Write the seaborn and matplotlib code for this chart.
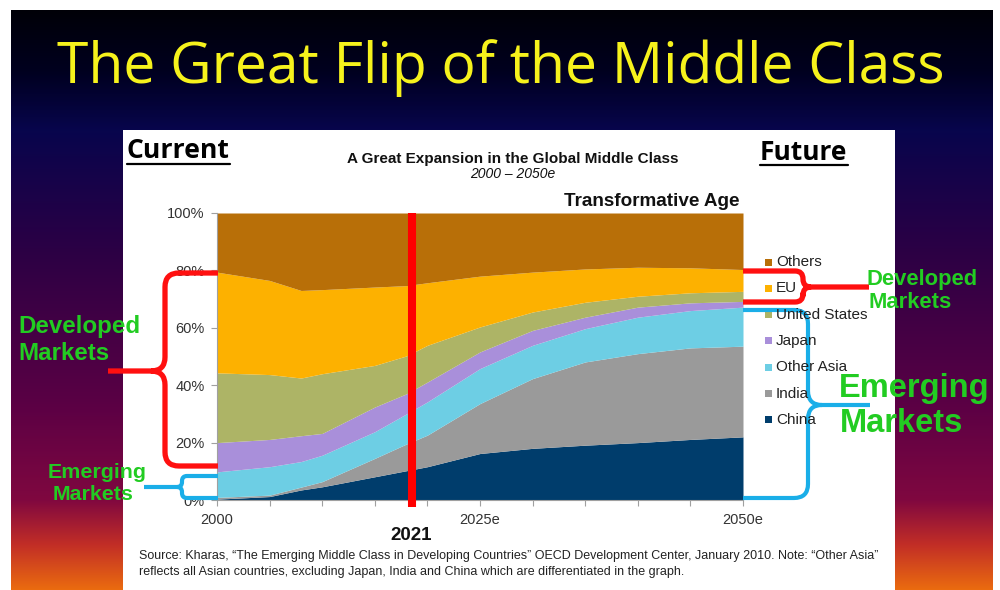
import numpy as np
import matplotlib
matplotlib.use("Agg")
import matplotlib.pyplot as plt
import seaborn as sns
from matplotlib.path import Path
from matplotlib.patches import PathPatch, Rectangle

# ---------------- data (shares of global middle class, %) ----------------
years = [2000, 2005, 2008, 2010, 2015, 2018, 2020, 2025, 2030, 2035, 2040, 2045, 2050]
china      = [0.3, 1.2, 3.5, 4.6, 8.1, 10.2, 11.6, 16.2, 18.0, 19.1, 20.0, 21.1, 22.0]
india      = [0.6, 0.5, 1.0, 1.8, 6.4, 9.3, 11.0, 17.4, 24.3, 29.0, 31.0, 31.9, 31.6]
other_asia = [8.9, 9.9, 8.9, 9.2, 9.3, 10.5, 11.6, 12.2, 11.6, 11.6, 12.7, 13.0, 13.6]
japan      = [10.2, 9.5, 9.0, 7.6, 8.6, 7.0, 6.9, 5.8, 5.2, 4.0, 3.5, 2.7, 2.0]
us         = [24.3, 22.6, 20.1, 20.8, 14.5, 13.2, 12.8, 8.7, 6.4, 5.2, 3.8, 3.5, 3.5]
eu         = [35.1, 32.8, 30.5, 29.3, 27.3, 24.5, 21.8, 17.7, 13.9, 11.6, 10.1, 8.7, 7.6]
others     = [20.6, 23.5, 27.0, 26.7, 25.8, 25.3, 24.3, 22.0, 20.6, 19.5, 18.9, 19.1, 19.7]

regions = ["China", "India", "Other Asia", "Japan", "United States", "EU", "Others"]
series = [china, india, other_asia, japan, us, eu, others]
colors = ["#003D6C", "#9A9A9A", "#6DCEE4", "#A98FDA", "#ADB466", "#FDB100", "#B86F08"]

x_ticks = list(range(2000, 2051, 5))
x_tick_labels = {2000: "2000", 2025: "2025e", 2050: "2050e"}
y_ticks = [0, 20, 40, 60, 80, 100]
marker_year = 2018.5
marker_label = "2021"

title = "The Great Flip of the Middle Class"
chart_title = "A Great Expansion in the Global Middle Class"
chart_subtitle = "2000 \u2013 2050e"
source_1 = ("Source: Kharas, \u201cThe Emerging Middle Class in Developing Countries\u201d OECD Development "
            "Center, January 2010. Note: \u201cOther Asia\u201d")
source_2 = "reflects all Asian countries, excluding Japan, India and China which are differentiated in the graph."

# ---------------- style ----------------
sns.set_theme(style="ticks")
plt.rcParams['font.family'] = ['Liberation Sans', 'DejaVu Sans']

W, H = 1000, 590
fig = plt.figure(figsize=(W / 100, H / 100), dpi=100)
fig.patch.set_facecolor("white")

# background gradient (pixel coordinates)
bg = fig.add_axes([0, 0, 1, 1], zorder=0)
bg.set_xlim(0, W); bg.set_ylim(H, 0); bg.axis("off")
stop_y = [10, 70, 130, 250, 400, 500, 545, 590]
stop_c = np.array([[0.0, 0.0, 0.03], [0.0, 0.0, 0.12], [0.03, 0.02, 0.30], [0.17, 0.0, 0.27],
                   [0.35, 0.0, 0.27], [0.50, 0.03, 0.25], [0.76, 0.18, 0.15], [0.92, 0.42, 0.06]])
ys = np.arange(10, 591)
grad = np.stack([np.interp(ys, stop_y, stop_c[:, k]) for k in range(3)], axis=-1)[:, None, :]
bg.imshow(grad, extent=(11, 993, 590, 10), aspect="auto", interpolation="bilinear")
bg.add_patch(Rectangle((123, 130), 895 - 123, 590 - 130, facecolor="white", edgecolor="none"))
bg.set_xlim(0, W); bg.set_ylim(H, 0)

# ---------------- main chart ----------------
ax = fig.add_axes([217 / W, 1 - 500 / H, 526 / W, 287 / H], zorder=2)
ax.stackplot(years, *series, colors=colors, labels=regions, linewidth=0)
ax.set_xlim(2000, 2050)
ax.set_ylim(0, 100)
ax.set_xticks(x_ticks)
ax.set_xticklabels([x_tick_labels.get(y, "") for y in x_ticks])
ax.set_yticks(y_ticks)
ax.set_yticklabels([f"{v}%" for v in y_ticks])
sns.despine(ax=ax, top=True, right=True)
for s in ("left", "bottom"):
    ax.spines[s].set_color("#A0A0A0")
    ax.spines[s].set_linewidth(0.8)
ax.tick_params(axis="both", length=4, width=0.8, color="#A0A0A0", labelsize=10.5,
               labelcolor="#333333", direction="out", pad=5)
ax.grid(False)
ax.plot([marker_year, marker_year], [-2.5, 100], color="#FF0000", lw=5.8,
        solid_capstyle="butt", clip_on=False, zorder=5)
ax.text(marker_year, -0.122, marker_label, transform=ax.get_xaxis_transform(),
        ha="center", va="center", fontsize=13.5, fontweight="bold", color="#111111")

# ---------------- overlay (texts, legend, braces) ----------------
ov = fig.add_axes([0, 0, 1, 1], zorder=5)
ov.set_xlim(0, W); ov.set_ylim(H, 0); ov.axis("off")
ov.patch.set_alpha(0)
renderer = fig.canvas.get_renderer()


def fit(t, width):
    bb = t.get_window_extent(renderer=renderer)
    t.set_fontsize(t.get_fontsize() * width / bb.width)
    return t


fit(ov.text(501, 68, title, ha="center", va="center", color="#F6F21C",
            family=["Open Sans", "DejaVu Sans"], fontsize=40), 887)

t_cur = fit(ov.text(127, 151, "Current", ha="left", va="center", color="black",
                    family=["Open Sans", "DejaVu Sans"], fontweight="bold", fontsize=18), 103)
ov.plot([127, 230], [164, 164], color="black", lw=1.6)
fit(ov.text(760, 152, "Future", ha="left", va="center", color="black",
            family=["Open Sans", "DejaVu Sans"], fontweight="bold", fontsize=18), 88)
ov.plot([760, 848], [165, 165], color="black", lw=1.6)

fit(ov.text(513, 159, chart_title, ha="center", va="center", fontweight="bold",
            fontsize=10, color="#111111"), 330)
ov.text(513, 174, chart_subtitle, ha="center", va="center", style="italic",
        fontsize=10, color="#111111")
fit(ov.text(739, 202, "Transformative Age", ha="right", va="center", fontweight="bold",
            fontsize=13, color="#111111"), 175)

# legend (top = Others)
for i, (name, col) in enumerate(zip(regions[::-1], colors[::-1])):
    yy = 262 + 26.3 * i
    ov.add_patch(Rectangle((765, yy - 3.5), 7, 7, facecolor=col, edgecolor="none"))
    ov.text(776, yy, name, ha="left", va="center", fontsize=11, color="#222222")

# source note
fit(ov.text(139, 556, source_1, ha="left", va="center", color="#222222",
            family=["Liberation Sans Narrow", "Liberation Sans"], fontsize=9), 741)
ov.text(139, 572, source_2, ha="left", va="center", color="#222222",
        family=["Liberation Sans Narrow", "Liberation Sans"],
        fontsize=ov.texts[-1].get_fontsize())


def brace(x_edge, y_top, y_bot, x_vert, y_tip, x_tip, r, color, lw):
    d = 1 if x_tip > x_vert else -1
    M, L, C = Path.MOVETO, Path.LINETO, Path.CURVE3
    verts = [(x_edge, y_top), (x_vert - d * r, y_top),
             (x_vert, y_top), (x_vert, y_top + r),
             (x_vert, y_tip - r),
             (x_vert, y_tip), (x_vert + d * r, y_tip),
             (x_tip, y_tip),
             (x_vert + d * r, y_tip),
             (x_vert, y_tip), (x_vert, y_tip + r),
             (x_vert, y_bot - r),
             (x_vert, y_bot), (x_vert - d * r, y_bot),
             (x_edge, y_bot)]
    codes = [M, L, C, C, L, C, C, L, M, C, C, L, C, C, L]
    ov.add_patch(PathPatch(Path(verts, codes), facecolor="none", edgecolor=color,
                           lw=lw, capstyle="butt", joinstyle="round"))


RED, BLUE, GREEN = "#FF1010", "#1AAEE8", "#22CC22"
brace(218, 273, 466, 165, 371, 108, 14, RED, 3.8)
brace(218, 476, 498, 182, 487, 144, 5, BLUE, 3.0)
brace(743, 271, 302, 803, 287, 869, 8, RED, 3.8)
brace(743, 310, 498, 808, 405, 870, 14, BLUE, 3.0)

# green annotations
fit(ov.text(18, 327, "Developed", ha="left", va="center", color=GREEN, fontweight="bold",
            fontsize=16), 122)
ov.text(18, 353, "Markets", ha="left", va="center", color=GREEN, fontweight="bold",
        fontsize=ov.texts[-1].get_fontsize())
fit(ov.text(97, 472, "Emerging", ha="center", va="center", color=GREEN, fontweight="bold",
            fontsize=15), 99)
ov.text(93, 495, "Markets", ha="center", va="center", color=GREEN, fontweight="bold",
        fontsize=ov.texts[-1].get_fontsize())
fit(ov.text(866, 279, "Developed", ha="left", va="center", color=GREEN, fontweight="bold",
            fontsize=14), 111)
ov.text(868, 302, "Markets", ha="left", va="center", color=GREEN, fontweight="bold",
        fontsize=ov.texts[-1].get_fontsize())
fit(ov.text(839, 389, "Emerging", ha="left", va="center", color=GREEN, fontweight="bold",
            fontsize=24), 151)
ov.text(840, 423, "Markets", ha="left", va="center", color=GREEN, fontweight="bold",
        fontsize=ov.texts[-1].get_fontsize())

fig.savefig("out.png", dpi=100, facecolor="white")
